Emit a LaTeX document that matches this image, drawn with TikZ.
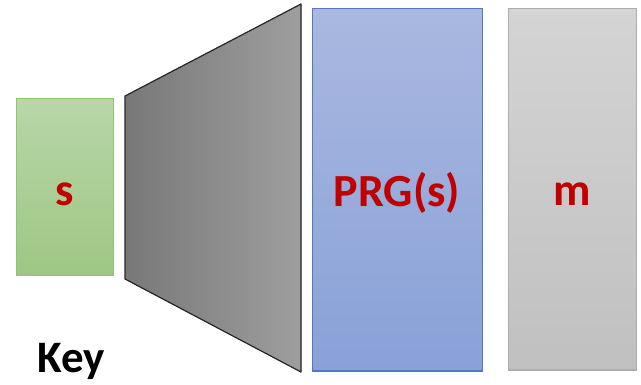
\documentclass[tikz,border=0pt]{standalone}
\usepackage{fontspec}
\setmainfont{Carlito}
\definecolor{txtred}{RGB}{192,0,0}
\definecolor{gtop}{RGB}{183,215,168}
\definecolor{gbot}{RGB}{158,198,132}
\definecolor{gline}{RGB}{140,198,110}
\definecolor{btop}{RGB}{169,184,224}
\definecolor{bbot}{RGB}{137,161,216}
\definecolor{bline}{RGB}{80,120,200}
\definecolor{mtop}{RGB}{212,212,212}
\definecolor{mbot}{RGB}{192,192,192}
\definecolor{mline}{RGB}{173,173,173}
\definecolor{tleft}{RGB}{120,120,120}
\definecolor{tright}{RGB}{158,158,158}
\newcommand{\lowtext}[2]{\raisebox{#1}[0pt][0pt]{#2}}
\begin{document}
\begin{tikzpicture}[x=1pt,y=1pt,
  box/.style={draw, line width=1pt, inner sep=0pt, font=\fontsize{46}{50}\selectfont\bfseries, text=txtred}]
\useasboundingbox (0,0) rectangle (641,-385);
\node[box, draw=gline, top color=gtop, bottom color=gbot, minimum width=97pt, minimum height=177pt] (s) at (64.5,-187.5) {\lowtext{-18.5pt}{s}};
\fill[left color=tleft, right color=tright, draw=black!85, line width=1.2pt, line join=round]
  (125,-96) -- (301,-4) -- (301,-372) -- (125,-279) -- cycle;
\node[box, draw=bline, top color=btop, bottom color=bbot, minimum width=170pt, minimum height=362pt] (prg) at (397,-190) {\lowtext{-17pt}{PRG(s)}};
\node[box, draw=mline, top color=mtop, bottom color=mbot, minimum width=128pt, minimum height=361pt] (m) at (572,-189.5) {\lowtext{-16.5pt}{m}};
\node[anchor=base west, inner sep=0pt, font=\fontsize{45}{50}\selectfont\bfseries] (key) at (37,-373) {Key};
\end{tikzpicture}
\end{document}
